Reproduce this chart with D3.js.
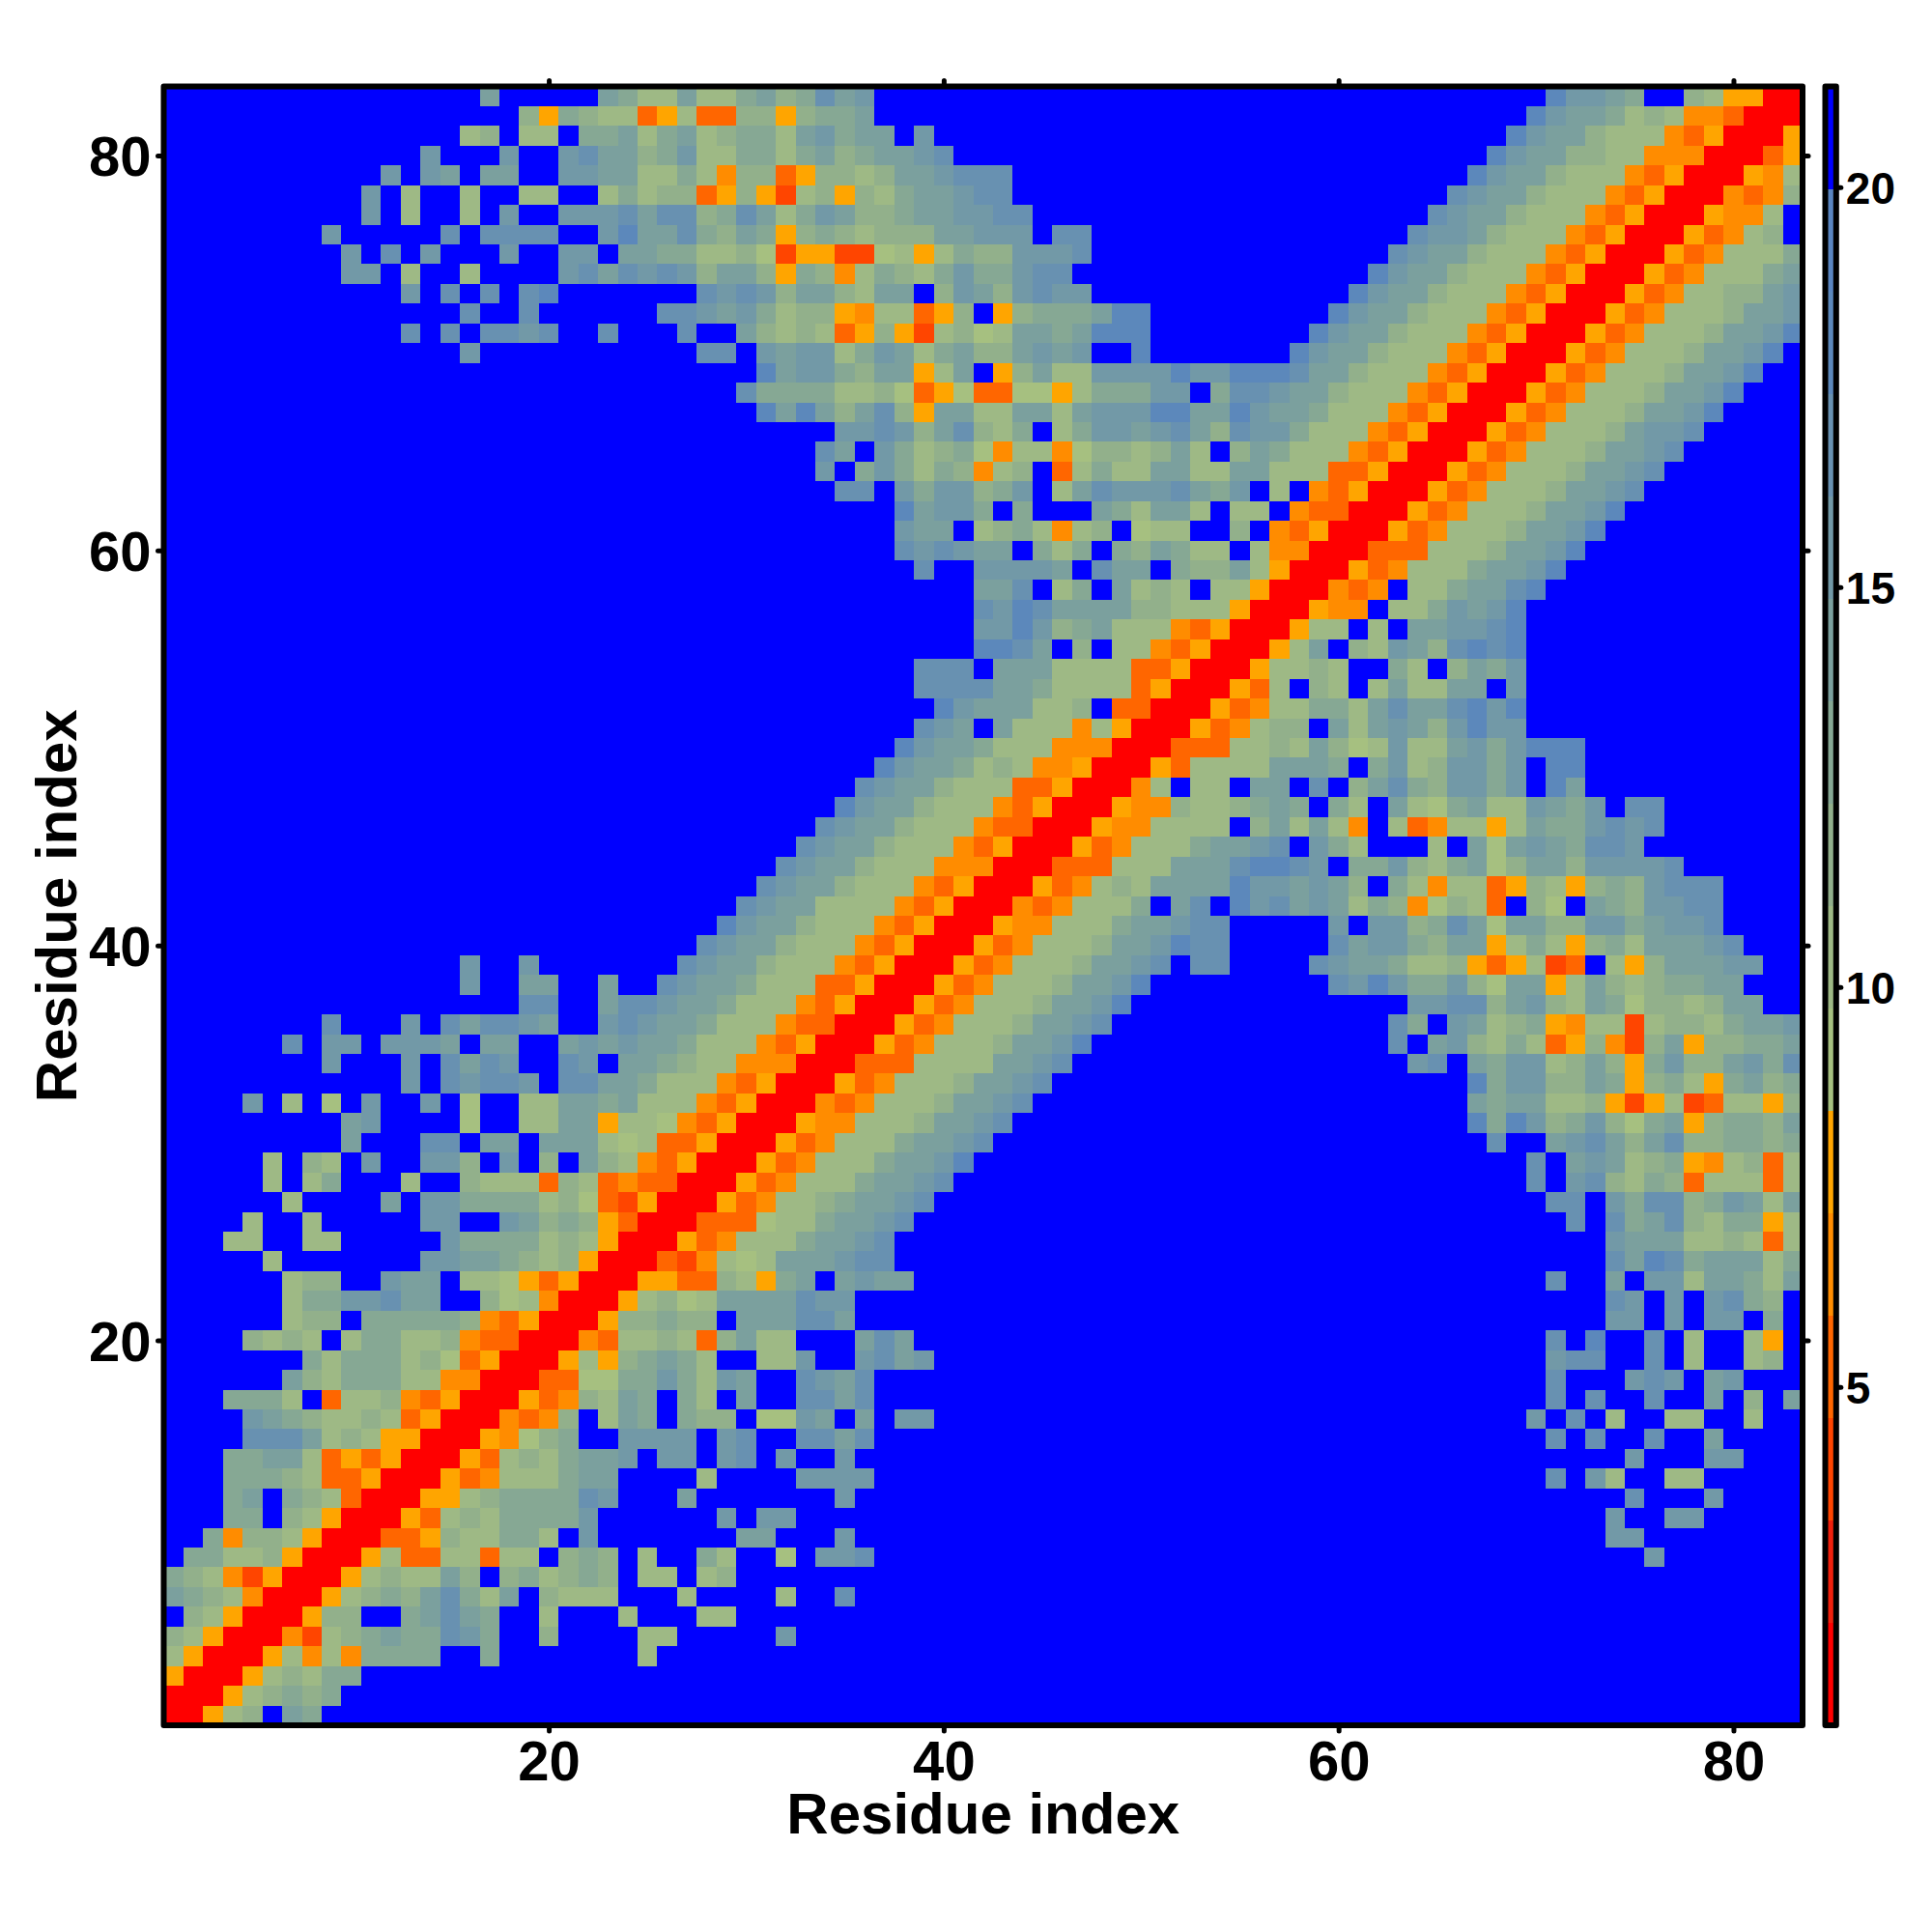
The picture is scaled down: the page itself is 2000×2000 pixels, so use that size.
<!DOCTYPE html>
<html>
<head>
<meta charset="utf-8">
<script src="https://d3js.org/d3.v7.min.js"></script>
<style>
html,body{margin:0;padding:0;background:#fff}
text{font-family:"Liberation Sans",Arial,sans-serif;font-weight:bold;fill:#000}
</style>
</head>
<body>
<svg id="chart" width="2000" height="2000"></svg>
<script>
// Lower triangle of a symmetric residue distance map: one string per residue j,
// each character is the colour level (hex digit) of the pair (i, j), ending at i = j.
// Omitted leading characters are level f (above the top threshold).
const gap = n => "f".repeat(n);
const levelRows = [
"0","00","500","7500","87500","f87500","a987400","98742500","f99778500","ff94887500",
"fff99f87500","fff9af987300","fff9998733500","fff99aa7353500","ffffccca7875500",
"ffffba9877873500","fff9997f377843500","ffffffa87999774400","fffffff979997863500",
"ffff8787f79977843300","ffffff788f99999843500","ffffff799bbcaaff867400",
"ffffff788ffbaaf77653500","fffff7fffffffbbaa9878500","fff77ff77fffffb9999787500",
"ffff7ff7fffffbbffba8985300","ffffff7ffffafbb999978632500","fffff7f79fff7ff8777387343300",
"fffff7f87fbffbb8fbf8fa8743500","fffffffffafffccfaafaaa76733500","fffffffffabffff6ff77aa577643500",
"ffffbf7f6fbffbf6ff77aa9a77743500","ffffffffffffbfcbccbfccaa977743500","ffffffffbfffbfcacbffcbfaa987744400",
"ffffffcfbbfbbbafaaffababaa977743500","ffffffffcfffbfcaccbaffbcbaa977743300","ccffaccbaa977743500",
"bffaaffaffcbaa977733500","bffbfffffffcbaa877743500","cbaa877743500","dbaa877743500","cbaa777743500",
"cbaa877743500","cbaa877744400","cbaa877743500","cbaa877743300","dbaa877743500","cbaa877733500",
"dbaa978744500","dbaa977744400","cbafa77747500","dbaaa778f3300","ccccaa977773500","cccfaaa777733500",
"ddcaf8f7743500","bbdb89a77743500","cbdcaaaa88777500","aacf79fa787f77500","cffbbbbafcaaf988a7500",
"cbcbaaf979f98a977f74400","baaf7897478f677ff8f43500","dabb9f9fffa97aa7f77f43300",
"ccfb9bb89bf7acbbbca9bf7f43500","bf9b9798478f37977aa77aa77733500","cafb97896477468878a7f8a977743500",
"bbcb8ac879f79bbabca8cbb977743500","dada8ac85aa77aa7abbbddaadbaa977743500",
"c99997786356336657999bbf9ccbaa877743500","dabb98aa57af58a77bbbbdbbdddcaa877743500",
"b"+gap(11)+"ccfbabb79ba79a88abab"+"ffdf"+gap(6)+"dbaa877743500",
"cfcfccbcffcfffcffa8787358527867aa9a"+"dddf"+gap(7)+"dbaa877743500",
"cffcffffffccbab97885477358f58999addf"+gap(8)+"dbaa877743500",
"bfcfcfcdfffffffcbcb8aa87aaf8ba8bcbb"+gap(13)+"dbaa877743500",
"bbf7ff7ffffbcacbcb8aa8598479879b99bcc"+gap(15)+"dbaa877743500",
"bfcfbfffbffbbfaa997786255226757988bbbc"+gap(15)+"cbaa877743500",
"bfffffcfccccffbdaac98a958987888aabbbfcc"+gap(16)+"cbba877743500",
"bf7ff7fbffbbbcacc89ca79ba889aabbcc"+gap(20)+"cbaa877743500",
"bf7ff7ff77ff7978835852785879aabcc"+gap(22)+"cbaa877743500",
"bfbafaaffbbaa7797488358878aabccc"+gap(23)+"dbaa877743500",
"bfffbffbcaa89b779979a89aabc"+gap(27)+"dbaa887744400",
"78f77f99a79a78997ab9aafb"+gap(29)+"dbaa877743500",
"85987735733885899a"+gap(33)+"dbaa978744300",
"afffffa977a779a89cab"+gap(34)+"dbba9ff875500"
];
const residueCount = 83;
const axisTicks = [20, 40, 60, 80];
const colorbarTicks = [5, 10, 15, 20];
const valueMin = 0.77, valueMax = 21.26;
const levelColors = ["#ff0000","#f0200c","#ff4500","#ff6600","#ff8c00","#ffa500",
  "#a6c080","#9eb985","#92b08b","#86a894","#7ba09e","#7299a7","#6891b1","#5c88bb","#5a85c0","#0000ff"];
const axisTitle = "Residue index";

const levelWidth = (valueMax - valueMin) / levelColors.length;
const thresholds = d3.range(1, levelColors.length).map(k => valueMin + k * levelWidth);
const color = d3.scaleThreshold().domain(thresholds).range(levelColors);

const L = 169.5, R = 1866, T = 89.5, B = 1786;
const x = d3.scaleLinear().domain([0.5, residueCount + 0.5]).range([L, R]);
const y = d3.scaleLinear().domain([0.5, residueCount + 0.5]).range([B, T]);

// expand the triangle to values
const cells = [];
levelRows.forEach((row, idx) => {
  const j = idx + 1;
  if (row.length > j) console.error("row too long", j, row.length);
  const s = row.padStart(j, "f");
  for (let i = 1; i <= j; i++) {
    const v = valueMin + (parseInt(s[i - 1], 16) + 0.5) * levelWidth;
    cells.push({i, j, v});
    if (i !== j) cells.push({i: j, j: i, v});
  }
});

const svg = d3.select("#chart");
svg.append("rect").attr("width", 2000).attr("height", 2000).attr("fill", "#fff");
svg.append("clipPath").attr("id", "plotClip").append("rect")
  .attr("x", L).attr("y", T).attr("width", R - L).attr("height", B - T);

svg.append("g").attr("clip-path", "url(#plotClip)").attr("shape-rendering", "crispEdges")
  .selectAll("rect").data(cells).join("rect")
  .attr("x", d => Math.round(x(d.i - 0.5)))
  .attr("y", d => Math.round(y(d.j + 0.5)))
  .attr("width", d => Math.round(x(d.i + 0.5)) - Math.round(x(d.i - 0.5)))
  .attr("height", d => Math.round(y(d.j - 0.5)) - Math.round(y(d.j + 0.5)))
  .attr("fill", d => color(d.v));

function styleAxis(g) {
  g.select(".domain").remove();
  g.selectAll(".tick line").attr("stroke", "#000").attr("stroke-width", 5).attr("stroke-linecap", "round");
}
const big = 58, titleSize = 60, small = 46;

const bottom = svg.append("g").attr("transform", `translate(0,${B})`)
  .call(d3.axisBottom(x).tickValues(axisTicks).tickSize(6).tickFormat(d3.format("d")));
styleAxis(bottom);
bottom.selectAll("text").attr("font-size", big).attr("y", 57).attr("dy", 0);

svg.append("g").attr("transform", `translate(0,${T})`)
  .call(d3.axisTop(x).tickValues(axisTicks).tickSize(6).tickFormat("")).call(styleAxis);

const left = svg.append("g").attr("transform", `translate(${L},0)`)
  .call(d3.axisLeft(y).tickValues(axisTicks).tickSize(6).tickFormat(d3.format("d")));
styleAxis(left);
left.selectAll("text").attr("font-size", big).attr("x", -13).attr("dy", "0.358em");

svg.append("g").attr("transform", `translate(${R},0)`)
  .call(d3.axisRight(y).tickValues(axisTicks).tickSize(6).tickFormat("")).call(styleAxis);

svg.append("rect").attr("x", L).attr("y", T).attr("width", R - L).attr("height", B - T)
  .attr("fill", "none").attr("stroke", "#000").attr("stroke-width", 6).attr("stroke-linejoin", "round");

// colour bar
const cbL = 1889.5, cbR = 1900.8;
const cy = d3.scaleLinear().domain([valueMin, valueMax]).range([B, T]);
const bands = d3.range(levelColors.length);
svg.append("g").attr("shape-rendering", "crispEdges").selectAll("rect").data(bands).join("rect")
  .attr("x", cbL).attr("width", cbR - cbL)
  .attr("y", k => Math.round(cy(valueMin + (k + 1) * levelWidth)))
  .attr("height", k => Math.round(cy(valueMin + k * levelWidth)) - Math.round(cy(valueMin + (k + 1) * levelWidth)))
  .attr("fill", k => levelColors[k]);
svg.append("rect").attr("x", cbL).attr("y", T).attr("width", cbR - cbL).attr("height", B - T)
  .attr("fill", "none").attr("stroke", "#000").attr("stroke-width", 6).attr("stroke-linejoin", "round");
const cbAxis = svg.append("g").attr("transform", `translate(${cbR},0)`)
  .call(d3.axisRight(cy).tickValues(colorbarTicks).tickSize(5).tickFormat(d3.format("d")));
styleAxis(cbAxis);
cbAxis.selectAll("text").attr("font-size", small).attr("x", 10).attr("dy", "0.358em");

// axis titles
svg.append("text").attr("x", (L + R) / 2).attr("y", 1898).attr("text-anchor", "middle")
  .attr("font-size", titleSize).text(axisTitle);
svg.append("text").attr("transform", `translate(79,${(T + B) / 2}) rotate(-90)`).attr("text-anchor", "middle")
  .attr("font-size", titleSize).text(axisTitle);
</script>
</body>
</html>
